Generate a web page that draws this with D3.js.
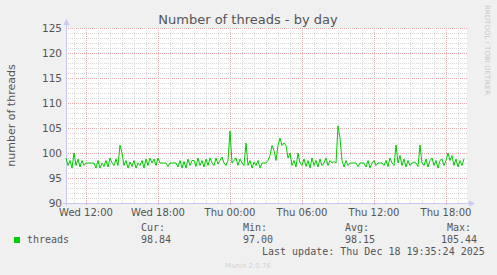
<!DOCTYPE html>
<html>
<head>
<meta charset="utf-8">
<script src="https://cdn.jsdelivr.net/npm/d3@7"></script>
<style>
  body { margin: 0; background: #f0f0f0; }
  svg { display: block; }
  text { font-family: "DejaVu Sans", sans-serif; fill: #555; }
  .mono { font-family: "DejaVu Sans Mono", monospace; }
</style>
</head>
<body>
<svg id="chart"></svg>
<script>
// samples every 10 minutes, starting Wed 17 Dec 2025 10:20
var startTime = Date.UTC(2025, 11, 17, 10, 20);
var endTime = Date.UTC(2025, 11, 18, 19, 40);
var stepMinutes = 10;

var threads = [
  99, 97.5, 98.5, 97, 100, 97.5, 98.8, 97.2, 98.5, 97.5,
  98, 98, 98, 98, 98, 97, 98.5, 97, 98, 97.3,
  98.5, 97.2, 99, 98, 97.5, 98.8, 97.5, 101.6, 100, 97.5,
  98.5, 97, 98.2, 97.3, 98.5, 97, 98, 97.5, 98.5, 97,
  98.8, 97.5, 99, 98, 98.8, 97.5, 99, 98, 98, 98,
  98, 97.3, 98, 98, 98, 98, 97.2, 98.5, 97, 98.3,
  97, 98.8, 97.5, 98.5, 98.5, 97.3, 99, 97.5, 98.5, 97.2,
  98.8, 97.5, 99, 98, 97.5, 99, 97.8, 98.5, 99.2, 98,
  97.5, 98.5, 104.4, 98, 98.5, 99, 97.5, 98.8, 98, 97.5,
  102, 97.5, 98.5, 97, 98.2, 97.5, 98.5, 97, 98, 98,
  98, 98.5, 99.5, 101.5, 100.5, 98.5, 101.5, 103, 101.5, 102,
  101.5, 99, 100, 97.5, 98.5, 97.2, 100, 98, 97.5, 98.8,
  97.3, 98.5, 97, 99, 97.5, 98.5, 97.2, 98.8, 97.5, 98,
  99, 97.5, 98.5, 98, 98.3, 98, 105.44, 103, 98.5, 97.2,
  98.5, 97.5, 98, 98, 98, 98, 97.3, 98, 98, 98,
  97.2, 98.5, 97, 98, 98.5, 97.5, 98, 98, 98, 97.5,
  98.5, 97.3, 99, 98, 97.5, 101.6, 98, 99.5, 97.5, 98.8,
  97.2, 98.5, 97.5, 98, 98.2, 98, 97.3, 101.6, 98, 97.5,
  98.8, 97.2, 98.5, 99, 97.5, 98.5, 97, 98.5, 98.8, 97.5,
  98.5, 100, 98.5, 99.5, 97.5, 98.8, 97.2, 98.5, 97.5, 98.84
];

var yTicks = [90, 95, 100, 105, 110, 115, 120, 125];
var legendHeads = ["Cur:", "Min:", "Avg:", "Max:"];
var legendValues = ["98.84", "97.00", "98.15", "105.44"];

var width = 497, height = 275;
var plotLeft = 66, plotRight = 466, plotTop = 28, plotBottom = 203;

var svg = d3.select("#chart").attr("width", width).attr("height", height);
svg.append("rect").attr("width", width).attr("height", height).attr("fill", "#f0f0f0");

var x = d3.scaleUtc().domain([startTime, endTime]).range([plotLeft, plotRight]);
var y = d3.scaleLinear().domain([90, 125]).range([plotBottom, plotTop]);

svg.append("rect")
  .attr("x", plotLeft).attr("y", plotTop)
  .attr("width", plotRight - plotLeft + 1).attr("height", plotBottom - plotTop)
  .attr("fill", "#ffffff");

// grid: minor every unit / hour, major every 5 units / 6 hours
var grid = svg.append("g").attr("shape-rendering", "crispEdges");
d3.range(90, 126, 1).forEach(function (v) {
  var major = v % 5 === 0;
  grid.append("line")
    .attr("x1", plotLeft).attr("x2", plotRight + 1)
    .attr("y1", Math.round(y(v)) + 0.5).attr("y2", Math.round(y(v)) + 0.5)
    .attr("stroke", major ? "#e6a8a8" : "#d8d8d8")
    .attr("stroke-dasharray", "1,1");
});
d3.utcHour.range(new Date(startTime), new Date(endTime + 1)).forEach(function (t) {
  var major = t.getUTCHours() % 6 === 0;
  var px = Math.round(x(t)) + 0.5;
  grid.append("line")
    .attr("x1", px).attr("x2", px)
    .attr("y1", plotTop).attr("y2", plotBottom + (major ? 3 : 0))
    .attr("stroke", major ? "#e6a8a8" : "#d8d8d8")
    .attr("stroke-dasharray", "1,1");
});

// axes
var axisColor = "#c8c8f4";
svg.append("line").attr("x1", plotLeft + 0.5).attr("x2", plotLeft + 0.5)
  .attr("y1", plotTop - 6).attr("y2", plotBottom + 3)
  .attr("stroke", axisColor);
svg.append("line").attr("x1", plotLeft - 3).attr("x2", plotRight + 6)
  .attr("y1", plotBottom + 0.5).attr("y2", plotBottom + 0.5)
  .attr("stroke", axisColor);
svg.append("path").attr("d", "M" + (plotLeft - 2.5) + "," + (plotTop - 3) + "L" + (plotLeft + 0.5) + "," + (plotTop - 9) + "L" + (plotLeft + 3.5) + "," + (plotTop - 3) + "Z")
  .attr("fill", axisColor);
svg.append("path").attr("d", "M" + (plotRight + 3) + "," + (plotBottom - 2.5) + "L" + (plotRight + 9) + "," + (plotBottom + 0.5) + "L" + (plotRight + 3) + "," + (plotBottom + 3.5) + "Z")
  .attr("fill", axisColor);

// y tick labels
svg.append("g").selectAll("text").data(yTicks).enter().append("text")
  .attr("x", 62).attr("y", function (d) { return y(d) + 4; })
  .attr("text-anchor", "end").attr("font-size", "10.5px")
  .text(function (d) { return d; });

// x tick labels
var fmt = d3.utcFormat("%a %H:%M");
svg.append("g").selectAll("text")
  .data(d3.utcHour.every(6).range(new Date(startTime), new Date(endTime)))
  .enter().append("text")
  .attr("x", function (d) { return x(d); }).attr("y", 216)
  .attr("text-anchor", "middle").attr("font-size", "10px")
  .text(function (d) { return fmt(d); });

// data line
var line = d3.line()
  .x(function (d, i) { return x(startTime + i * stepMinutes * 60000); })
  .y(function (d) { return y(d); });
svg.append("path").datum(threads)
  .attr("d", line)
  .attr("fill", "none").attr("stroke", "#00cc00").attr("stroke-width", 1);

// title and labels
svg.append("text").attr("x", 248).attr("y", 24)
  .attr("text-anchor", "middle").attr("font-size", "13px")
  .text("Number of threads - by day");
svg.append("text")
  .attr("transform", "translate(15," + ((plotTop + plotBottom) / 2) + ") rotate(-90)")
  .attr("text-anchor", "middle").attr("font-size", "11px")
  .text("number of threads");
svg.append("text")
  .attr("transform", "translate(485,5) rotate(90)")
  .attr("font-size", "7px").style("fill", "#c8c8c8")
  .text("RRDTOOL / TOBI OETIKER");

// legend
svg.append("rect").attr("x", 14).attr("y", 237).attr("width", 6).attr("height", 6).attr("fill", "#00cc00");
svg.append("text").attr("class", "mono").attr("x", 27).attr("y", 243).attr("font-size", "10px").text("threads");
var colX = [141, 243, 345, 447];
var valX = [141, 243, 345, 441];
legendHeads.forEach(function (h, i) {
  svg.append("text").attr("class", "mono").attr("x", colX[i]).attr("y", 231).attr("font-size", "10px").text(h);
  svg.append("text").attr("class", "mono").attr("x", valX[i]).attr("y", 243).attr("font-size", "10px").text(legendValues[i]);
});
svg.append("text").attr("class", "mono").attr("x", 262).attr("y", 255).attr("font-size", "10px")
  .text("Last update: Thu Dec 18 19:35:24 2025");
svg.append("text").attr("x", 248).attr("y", 268).attr("text-anchor", "middle")
  .attr("font-size", "7px").style("fill", "#d0d0d0")
  .text("Munin 2.0.76");
</script>
</body>
</html>
